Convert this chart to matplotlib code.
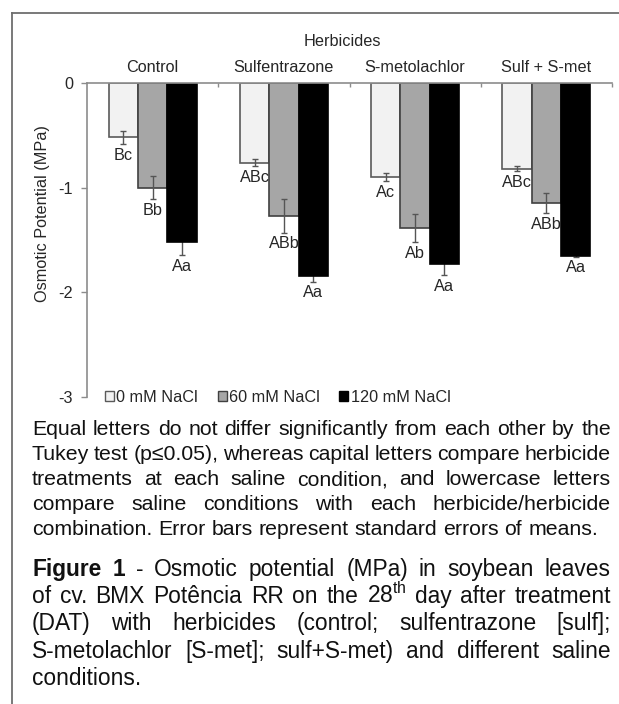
import matplotlib
matplotlib.use("Agg")
import matplotlib.pyplot as plt
from matplotlib.patches import Patch
from matplotlib.lines import Line2D
import numpy as np

plt.rcParams['font.family'] = ['Liberation Sans', 'DejaVu Sans']
plt.rcParams['mathtext.fontset'] = 'custom'
plt.rcParams['mathtext.rm'] = 'Liberation Sans'

# data
herbicides = ["Control", "Sulfentrazone", "S-metolachlor", "Sulf + S-met"]
salt_levels = ["0 mM NaCl", "60 mM NaCl", "120 mM NaCl"]
op_0mM = [-0.52, -0.76, -0.90, -0.82]
op_60mM = [-1.00, -1.27, -1.385, -1.15]
op_120mM = [-1.52, -1.84, -1.725, -1.65]
se_0mM = [0.065, 0.037, 0.037, 0.024]
se_60mM = [0.11, 0.16, 0.135, 0.096]
se_120mM = [0.124, 0.057, 0.11, 0.01]
letters_0mM = ["Bc", "ABc", "Ac", "ABc"]
letters_60mM = ["Bb", "ABb", "Ab", "ABb"]
letters_120mM = ["Aa", "Aa", "Aa", "Aa"]
yticks = [0, -1, -2, -3]
ytick_labels = ["0", "-1", "-2", "-3"]

note_lines = [
    "Equal letters do not differ significantly from each other by the",
    "Tukey test (p\u22640.05), whereas capital letters compare herbicide",
    "treatments at each saline condition, and lowercase letters",
    "compare saline conditions with each herbicide/herbicide",
    "combination. Error bars represent standard errors of means.",
]
caption_lines = [
    "Figure 1 - Osmotic potential (MPa) in soybean leaves",
    "of cv. BMX Pot\u00eancia RR on the 28$^{\\mathrm{th}}$ day after treatment",
    "(DAT) with herbicides (control; sulfentrazone [sulf];",
    "S-metolachlor [S-met]; sulf+S-met) and different saline",
    "conditions.",
]

W, H = 619, 704
fig = plt.figure(figsize=(W / 100, H / 100), dpi=100)
fig.patch.set_facecolor('white')

# axes box in pixels
left, right, top, bottom = 87, 612, 83, 397
ax = fig.add_axes([left / W, 1 - bottom / H, (right - left) / W, (bottom - top) / H])

txt = '#262626'
axis_col = '#8c8c8c'
fs = 11.7
x = np.arange(len(herbicides))
bw = 0.223

series = [
    (op_0mM, se_0mM, letters_0mM, '#f2f2f2', '#5a5a5a', 3),
    (op_60mM, se_60mM, letters_60mM, '#a6a6a6', '#404040', 3),
    (op_120mM, se_120mM, letters_120mM, '#000000', '#000000', 1),
]
handles = []
for i, (vals, errs, lets, fc, ec, ez) in enumerate(series):
    xs = x + (i - 1) * bw
    ax.bar(xs, vals, bw, color=fc, edgecolor=ec, linewidth=1.2, zorder=2)
    ax.errorbar(xs, vals, yerr=errs, fmt='none', ecolor='#555555',
                elinewidth=1, capsize=2.5, capthick=1, zorder=ez)
    for xx, v, e, lab in zip(xs, vals, errs, lets):
        ax.annotate(lab, (xx, v - e), xytext=(0, -8), textcoords='offset points',
                    ha='center', va='center', fontsize=fs, color=txt, zorder=4)
    handles.append(Patch(facecolor=fc, edgecolor=ec, linewidth=1))

ax.set_xlim(-0.5, 3.5)
ax.set_ylim(-3, 0)
for s in ['right', 'bottom']:
    ax.spines[s].set_visible(False)
for s in ['left', 'top']:
    ax.spines[s].set_color(axis_col)
    ax.spines[s].set_linewidth(1.2)

ax.set_yticks(yticks)
ax.set_yticklabels(ytick_labels)
ax.tick_params(axis='y', direction='out', length=4, width=1, color=axis_col,
               labelsize=fs, labelcolor=txt, pad=6)

ax.xaxis.tick_top()
ax.set_xticks([0.5, 1.5, 2.5, 3.5])
ax.set_xticklabels([])
ax.set_xticks(x, herbicides, minor=True)
ax.tick_params(axis='x', which='major', direction='in', length=3, width=1,
               color=axis_col, top=True, bottom=False)
ax.tick_params(axis='x', which='minor', length=0, labelsize=fs,
               labelcolor=txt, pad=6, top=True, bottom=False,
               labeltop=True, labelbottom=False)

fig.text(342 / W, 1 - 42 / H, "Herbicides", ha='center', va='center',
         fontsize=fs, color=txt)
fig.text(43 / W, 1 - 214 / H, "Osmotic Potential (MPa)", rotation=90,
         ha='center', va='center', fontsize=fs, color=txt)

ax.legend(handles, salt_levels, ncol=3, frameon=False, fontsize=fs,
          loc='center left', bbox_to_anchor=(105 / W, 1 - 397 / H),
          bbox_transform=fig.transFigure, borderpad=0, borderaxespad=0,
          handlelength=0.55, handleheight=0.55, handletextpad=0.15,
          columnspacing=1.2, labelcolor=txt)

# outer frame (top and left edges)
fr = '#6e6e6e'
fig.add_artist(Line2D([12 / W, 12 / W], [0, 1 - 13 / H], color=fr, lw=1.3,
                      transform=fig.transFigure))
fig.add_artist(Line2D([12 / W, 1], [1 - 13 / H, 1 - 13 / H], color=fr, lw=1.3,
                      transform=fig.transFigure))

# justified caption text
renderer = fig.canvas.get_renderer()
text_left, text_right = 32, 611


def place_line(line, base_y, justify, size, bold_words=()):
    words = line.split(' ')
    arts, widths = [], []
    for w in words:
        t = fig.text(0, 0, w, fontsize=size, color='#111111',
                     fontweight='bold' if w in bold_words else 'normal',
                     ha='left', va='baseline')
        arts.append(t)
        widths.append(t.get_window_extent(renderer).width)
    if justify and len(words) > 1:
        gap = (text_right - text_left - sum(widths)) / (len(words) - 1)
    else:
        gap = 0.278 * size * 100 / 72
    xp = text_left
    for t, wd in zip(arts, widths):
        t.set_position((xp / W, 1 - base_y / H))
        xp += wd + gap


for k, line in enumerate(note_lines):
    place_line(line, 435 + 25 * k, k < len(note_lines) - 1, 15.3)
for k, line in enumerate(caption_lines):
    place_line(line, 576 + 27.2 * k, k < len(caption_lines) - 1, 16.4,
               bold_words=("Figure", "1") if k == 0 else ())

fig.savefig("out.png", dpi=100, facecolor='white')
